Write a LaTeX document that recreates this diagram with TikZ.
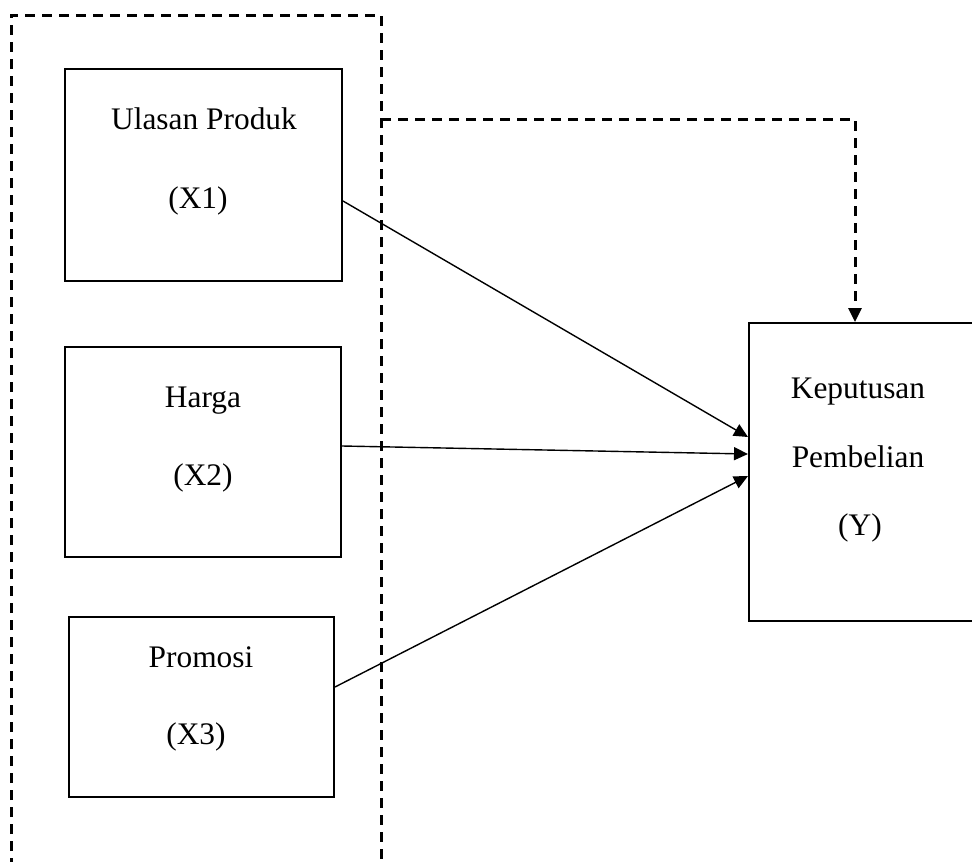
\documentclass[tikz,border=0pt]{standalone}
\usepackage{fontspec}
\setmainfont{Liberation Serif}
\usetikzlibrary{arrows.meta}
\begin{document}
\begin{tikzpicture}[x=1bp,y=-1bp,
  box/.style={draw,line width=2bp,minimum width=#1,inner sep=0pt},
  lbl/.style={font=\fontsize{31.5}{36}\selectfont,inner sep=0pt,anchor=base},
  tip/.style={-{Triangle[length=14bp,width=13bp]}},
  conn/.style={line width=1.4bp,tip},
  dashline/.style={line width=3bp,dash pattern=on 10bp off 7bp}]
\useasboundingbox (0,0) rectangle (972,862);
% outer dashed frame
\coordinate (fbl) at (11,868);
\coordinate (ftl) at (11,15);
\coordinate (ftr) at (381,15);
\coordinate (fbr) at (381,868);
\coordinate (fr) at (381,119);
\draw[dashline] (fbl) -- (ftl) -- (ftr) -- (fbr);
% boxes
\node[box=277bp,minimum height=212bp] (x1) at (203.5,175) {};
\node[box=276bp,minimum height=210bp] (x2) at (203,452) {};
\node[box=265bp,minimum height=180bp] (x3) at (201.5,707) {};
\node[box=228bp,minimum height=298bp] (y) at (863,472) {};
% labels
\node[lbl] (t1a) at (204,129) {Ulasan Produk};
\node[lbl] (t1b) at (198,208) {(X1)};
\node[lbl] (t2a) at (203,407) {Harga};
\node[lbl] (t2b) at (203,485) {(X2)};
\node[lbl] (t3a) at (201,667) {Promosi};
\node[lbl] (t3b) at (196,744) {(X3)};
\node[lbl] (tya) at (858,398) {Keputusan};
\node[lbl] (tyb) at (858,467) {Pembelian};
\node[lbl] (tyc) at (860,535) {(Y)};
% connectors
\draw[conn] ([yshift=-26bp]x1.east) -- ([yshift=35bp]y.west);
\draw[conn] ([yshift=6bp]x2.east) -- ([yshift=18bp]y.west);
\draw[conn] ([yshift=20bp]x3.east) -- ([yshift=-4bp]y.west);
\draw[dashline,tip] (fr) -| ([xshift=-8bp]y.north);
\end{tikzpicture}
\end{document}
